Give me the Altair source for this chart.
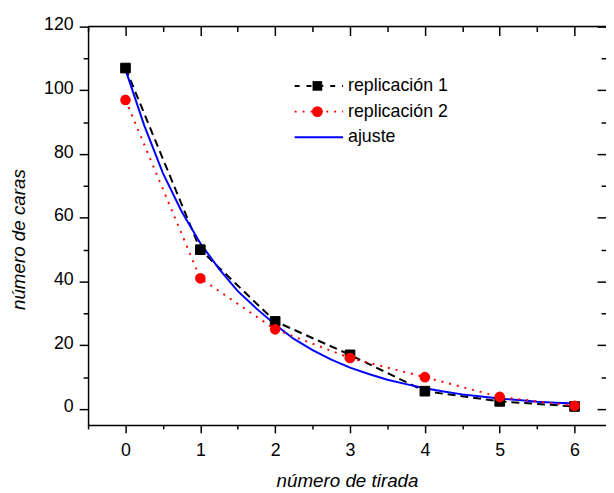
import altair as alt
import pandas as pd

# ---- data ----
tirada = [0, 1, 2, 3, 4, 5, 6]
replicacion_1 = [107, 50, 27.5, 17, 5.6, 2.4, 0.8]
replicacion_2 = [97, 41, 25, 16, 10, 3.8, 1.0]

ajuste_x = [0, 0.25, 0.5, 0.75, 1.0, 1.25, 1.5, 1.75, 2.0, 2.25, 2.5, 2.75, 3.0,
            3.25, 3.5, 3.75, 4.0, 4.25, 4.5, 4.75, 5.0, 5.25, 5.5, 5.75, 6.0]
ajuste_y = [106.5, 89, 74, 62, 52, 44, 37, 31.5, 26.5, 22, 18.5, 15.5, 13,
            11, 9.2, 7.8, 6.5, 5.5, 4.6, 3.9, 3.3, 2.8, 2.3, 2.0, 1.7]

series_names = ["replicación 1", "replicación 2", "ajuste"]
x_major = [0, 1, 2, 3, 4, 5, 6]
x_minor = [-0.5, 0.5, 1.5, 2.5, 3.5, 4.5, 5.5]
y_major = [0, 20, 40, 60, 80, 100, 120]
y_minor = [10, 30, 50, 70, 90, 110]

x_title = "número de tirada"
y_title = "número de caras"

# ---- frames ----
d1 = pd.DataFrame({"x": tirada, "y": replicacion_1})
d2 = pd.DataFrame({"x": tirada, "y": replicacion_2})
da = pd.DataFrame({"x": ajuste_x, "y": ajuste_y})

W, H = 524, 403
F = "Liberation Sans"

xs = alt.Scale(domain=[-0.5, 6.42], nice=False, zero=False)
ys = alt.Scale(domain=[-5, 120], nice=False, zero=False)

common = dict(grid=False, tickColor="black", tickWidth=1.5, domainColor="black",
              domainWidth=1.5)


def axis_layer(ax_x, ax_y):
    return alt.Chart(da).mark_point(opacity=0).encode(
        x=alt.X("x:Q", scale=xs, axis=ax_x),
        y=alt.Y("y:Q", scale=ys, axis=ax_y),
    )


ax_bottom = alt.Axis(orient="bottom", values=x_major, tickSize=8, labelFontSize=18,
                     labelFont=F, labelColor="black", labelPadding=9, labelOverlap=False,
                     labelFlush=False, format="d",
                     title=x_title, titleFont=F, titleFontSize=19, titleFontStyle="italic",
                     titleFontWeight="normal", titleColor="black",
                     titleBaseline="alphabetic", titleY=62, **common)
ax_left = alt.Axis(orient="left", values=y_major, tickSize=9, labelFontSize=18,
                   labelFont=F, labelColor="black", labelPadding=6, labelOverlap=False,
                   labelFlush=False, labelOffset=-2, format="d",
                   title=y_title, titleFont=F, titleFontSize=19, titleFontStyle="italic",
                   titleFontWeight="normal", titleColor="black",
                   titleBaseline="alphabetic", titleX=-64, titleY=215, **common)

ax_bottom_minor = alt.Axis(orient="bottom", values=x_minor, tickSize=4, labels=False,
                           domain=False, title=None, **common)
ax_left_minor = alt.Axis(orient="left", values=y_minor, tickSize=5, labels=False,
                         domain=False, title=None, **common)

ax_top = alt.Axis(orient="top", values=x_major, tickSize=9, offset=-9, labels=False,
                  domain=False, title=None, **common)
ax_right = alt.Axis(orient="right", values=y_major, tickSize=9, offset=-9, labels=False,
                    domain=False, title=None, **common)

ax_top_minor = alt.Axis(orient="top", values=x_minor, tickSize=5, offset=-5, labels=False,
                        domain=False, title=None, **common)
ax_right_minor = alt.Axis(orient="right", values=y_minor, tickSize=5, offset=-5,
                          labels=False, domain=False, title=None, **common)

enc = dict(x=alt.X("x:Q", scale=xs, axis=None), y=alt.Y("y:Q", scale=ys, axis=None))

line1 = alt.Chart(d1).mark_line(color="black", strokeWidth=2, strokeDash=[8, 5]).encode(**enc)
pts1 = alt.Chart(d1).mark_point(shape="square", filled=True, color="black", size=95,
                                opacity=1, stroke="black", strokeWidth=1).encode(**enc)
line_a = alt.Chart(da).mark_line(color="#0000ff", strokeWidth=2).encode(**enc)
line2 = alt.Chart(d2).mark_line(color="#ff0000", strokeWidth=2, strokeDash=[2, 6]).encode(**enc)
pts2 = alt.Chart(d2).mark_circle(color="#ff0000", size=115, opacity=1).encode(**enc)

top_line = alt.Chart(pd.DataFrame({"a": [0]})).mark_rule(color="black", strokeWidth=1.5).encode(
    x=alt.value(0), x2=alt.value(W), y=alt.value(0))

# ---- legend (drawn by hand) ----
leg_x0, leg_x1, leg_sym, leg_txt = 209, 258, 232, 263
leg_y0, leg_dy = 60, 26
legend_layers = []
for i, name in enumerate(series_names):
    yy = leg_y0 + i * leg_dy
    ldf = pd.DataFrame({"label": [name]})
    if i == 0:
        legend_layers.append(alt.Chart(ldf).mark_rule(color="black", strokeWidth=2,
                                                      strokeDash=[5, 7]).encode(
            x=alt.value(leg_x0), x2=alt.value(leg_x1), y=alt.value(yy)))
        legend_layers.append(alt.Chart(ldf).mark_point(shape="square", filled=True,
                                                       color="black", size=95, opacity=1).encode(
            x=alt.value(leg_sym), y=alt.value(yy)))
    elif i == 1:
        legend_layers.append(alt.Chart(ldf).mark_rule(color="#ff0000", strokeWidth=2,
                                                      strokeDash=[2, 6]).encode(
            x=alt.value(leg_x0), x2=alt.value(leg_x1), y=alt.value(yy)))
        legend_layers.append(alt.Chart(ldf).mark_circle(color="#ff0000", size=120,
                                                        opacity=1).encode(
            x=alt.value(leg_sym), y=alt.value(yy)))
    else:
        legend_layers.append(alt.Chart(ldf).mark_rule(color="#0000ff", strokeWidth=2).encode(
            x=alt.value(leg_x0), x2=alt.value(leg_x1), y=alt.value(yy)))
    legend_layers.append(alt.Chart(ldf).mark_text(align="left", baseline="middle",
                                                  fontSize=18, font=F, color="black").encode(
        x=alt.value(leg_txt), y=alt.value(yy), text="label:N"))

chart = alt.layer(
    axis_layer(ax_bottom, ax_left),
    axis_layer(ax_bottom_minor, ax_left_minor),
    axis_layer(ax_top, ax_right),
    axis_layer(ax_top_minor, ax_right_minor),
    top_line,
    line1, line_a, pts1, line2, pts2,
    *legend_layers,
).resolve_axis(x="independent", y="independent").properties(
    width=W, height=H,
    autosize=alt.AutoSizeParams(type="none"),
    padding={"left": 81, "top": 16, "right": 0, "bottom": 65},
).configure_view(stroke="transparent").configure(background="white")

chart.save("out.html", embed_options={"renderer": "svg", "actions": False})
